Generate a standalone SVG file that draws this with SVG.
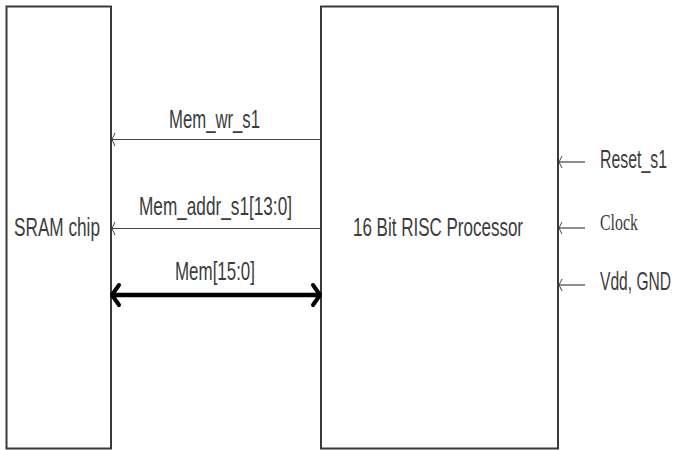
<svg xmlns="http://www.w3.org/2000/svg" width="674" height="450" viewBox="0 0 674 450">
<defs>
<style>
.box{fill:#fff;stroke:#3a3a3a;stroke-width:2}
.sig{stroke:#444;stroke-width:1.2;fill:none}
.head{stroke:#444;stroke-width:1;fill:none}
.bus{stroke:#000;stroke-width:4.5;fill:none}
.bushead{stroke:#000;stroke-width:4;fill:none;stroke-linecap:round;stroke-linejoin:round}
.t{font-family:"Liberation Sans",Arial,sans-serif;font-size:25px;fill:#3c3c3c}
.ts{font-family:"Liberation Serif","Times New Roman",serif;font-size:23px;fill:#3c3c3c}
</style>
</defs>
<rect width="674" height="450" fill="#fff"/>
<g id="sram">
<rect class="box" x="6.5" y="6.5" width="104.5" height="442"/>
<text class="t" x="14" y="236" textLength="86" lengthAdjust="spacingAndGlyphs">SRAM chip</text>
</g>
<g id="processor">
<rect class="box" x="321" y="6.5" width="237" height="442"/>
<text class="t" x="353" y="236" textLength="170" lengthAdjust="spacingAndGlyphs">16 Bit RISC Processor</text>
</g>
<g id="connectors">
<line class="sig" x1="112" y1="139.5" x2="321" y2="139.5"/>
<path class="head" d="M115,133 L112,139.5 L115,146"/>
<line class="sig" x1="112" y1="228.5" x2="321" y2="228.5"/>
<path class="head" d="M115,222 L112,228.5 L115,235"/>
<line class="bus" x1="113" y1="295" x2="318" y2="295"/>
<path class="bushead" d="M119,285 L112,295 L119,305"/>
<path class="bushead" d="M313,285 L320,295 L313,305"/>
<line class="sig" x1="559" y1="162" x2="585" y2="162"/>
<path class="head" d="M562,156 L559,162 L562,168"/>
<line class="sig" x1="559" y1="228" x2="585" y2="228"/>
<path class="head" d="M562,222 L559,228 L562,234"/>
<line class="sig" x1="559" y1="285" x2="585" y2="285"/>
<path class="head" d="M562,279 L559,285 L562,291"/>
</g>
<g id="labels">
<text class="t" x="169" y="128" textLength="91" lengthAdjust="spacingAndGlyphs">Mem_wr_s1</text>
<text class="t" x="139" y="215" textLength="153" lengthAdjust="spacingAndGlyphs">Mem_addr_s1[13:0]</text>
<text class="t" x="175" y="280" textLength="80" lengthAdjust="spacingAndGlyphs">Mem[15:0]</text>
<text class="t" x="600" y="168" textLength="67" lengthAdjust="spacingAndGlyphs">Reset_s1</text>
<text class="ts" x="600" y="230" textLength="38" lengthAdjust="spacingAndGlyphs">Clock</text>
<text class="t" x="600" y="290" textLength="71" lengthAdjust="spacingAndGlyphs">Vdd, GND</text>
</g>
</svg>
